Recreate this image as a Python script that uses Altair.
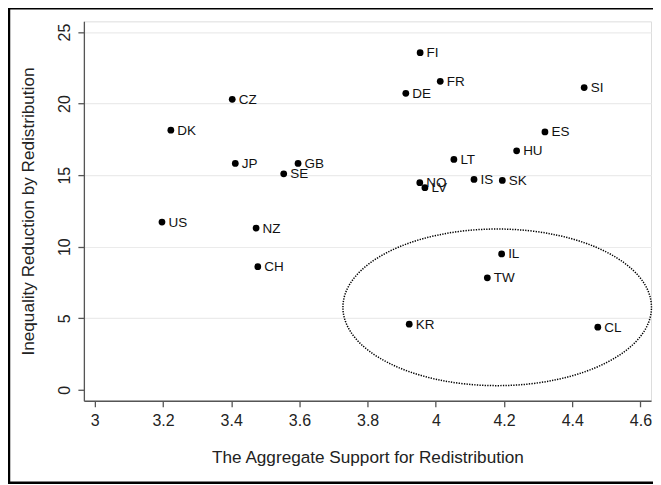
import altair as alt
import pandas as pd

# ---- data ----
countries = ["CZ", "DK", "JP", "GB", "SE", "US", "NZ", "CH",
             "FI", "FR", "DE", "SI", "ES", "HU", "LT", "IS", "SK", "NO", "LV",
             "IL", "TW", "KR", "CL"]
support = [3.403, 3.223, 3.412, 3.596, 3.554, 3.197, 3.473, 3.478,
           3.954, 4.013, 3.912, 4.435, 4.320, 4.237, 4.053, 4.112, 4.195, 3.953, 3.968,
           4.193, 4.151, 3.922, 4.475]
reduction = [20.3, 18.14, 15.82, 15.82, 15.09, 11.72, 11.3, 8.6,
             23.56, 21.56, 20.72, 21.12, 18.02, 16.7, 16.1, 14.7, 14.63, 14.47, 14.12,
             9.49, 7.82, 4.58, 4.37]

x_ticks = [3, 3.2, 3.4, 3.6, 3.8, 4, 4.2, 4.4, 4.6]
y_ticks = [0, 5, 10, 15, 20, 25]

# highlighted group (dotted ellipse annotation)
ellipse_center_x = [4.180]
ellipse_center_y = [5.76]

df = pd.DataFrame({"country": countries, "support": support, "reduction": reduction})
ell = pd.DataFrame({"cx": ellipse_center_x, "cy": ellipse_center_y})

FONT = "Liberation Sans, Arial, Helvetica, sans-serif"
W, H = 568, 380

xscale = alt.Scale(domain=[2.968, 4.631], nice=False, zero=False)
yscale = alt.Scale(domain=[-0.77, 25.75], nice=False, zero=False)

xaxis = alt.Axis(values=x_ticks, format="~g", title="The Aggregate Support for Redistribution",
                 grid=False, tickSize=6, labelPadding=6, titlePadding=20,
                 domainColor="#555555", tickColor="#555555", domainWidth=1.3, tickWidth=1.3,
                 labelFontSize=16, titleFontSize=17.2, labelFont=FONT, titleFont=FONT,
                 labelColor="#222222", titleColor="#222222", titleFontWeight="normal")
yaxis = alt.Axis(values=y_ticks, format="~g", title="Inequality Reduction by Redistribution",
                 grid=True,
                 gridColor=alt.condition("datum.value == 0", alt.value("transparent"), alt.value("#ebebeb")),
                 gridWidth=1.2,
                 tickSize=6, labelPadding=5, labelAngle=270, labelAlign="center", labelBaseline="bottom",
                 titlePadding=19,
                 domainColor="#555555", tickColor="#555555", domainWidth=1.3, tickWidth=1.3,
                 labelFontSize=16, titleFontSize=17.2, labelFont=FONT, titleFont=FONT,
                 labelColor="#222222", titleColor="#222222", titleFontWeight="normal")

base = alt.Chart(df).encode(
    x=alt.X("support:Q", scale=xscale, axis=xaxis),
    y=alt.Y("reduction:Q", scale=yscale, axis=yaxis),
)

points = base.mark_circle(size=46, color="black", opacity=1)
labels = base.mark_text(align="left", baseline="middle", dx=6.5, dy=0.5, fontSize=13.5,
                        font=FONT, color="#111111").encode(text="country:N")

# ellipse drawn as a custom symbol path (cubic Bezier approximation), width 309px
k = 0.5076
c = 0.5523
path = (f"M -1 0 C -1 {-c*k:.4f} {-c:.4f} {-k} 0 {-k} "
        f"C {c:.4f} {-k} 1 {-c*k:.4f} 1 0 "
        f"C 1 {c*k:.4f} {c:.4f} {k} 0 {k} "
        f"C {-c:.4f} {k} -1 {c*k:.4f} -1 0 Z")
ellipse = alt.Chart(ell).mark_point(
    shape=path, filled=False, stroke="black", strokeWidth=1.5, strokeDash=[1.3, 1.3], opacity=1
).encode(
    x=alt.X("cx:Q", scale=xscale),
    y=alt.Y("cy:Q", scale=yscale),
    size=alt.value(309 * 309),
)

# outer frame of the figure: top, left and bottom edges (right edge is outside the picture)
frame_top = alt.Chart(ell).mark_rule(color="black", strokeWidth=2.5).encode(
    x=alt.value(-76), x2=alt.value(700), y=alt.value(-13))
frame_left = alt.Chart(ell).mark_rule(color="black", strokeWidth=2.5).encode(
    x=alt.value(-75), y=alt.value(-13), y2=alt.value(462))
frame_bottom = alt.Chart(ell).mark_rule(color="black", strokeWidth=2.5).encode(
    x=alt.value(-76), x2=alt.value(700), y=alt.value(462))

chart = alt.layer(frame_top, frame_left, frame_bottom, ellipse, points, labels).properties(
    width=W, height=H,
    autosize=alt.AutoSizeParams(type="none"),
    padding={"left": 76, "top": 13, "right": 2, "bottom": 84},
).configure_view(
    stroke="#e2e2e2", strokeWidth=1.5
).configure(background="white")

chart.save("out.html", embed_options={"renderer": "svg", "actions": False})
